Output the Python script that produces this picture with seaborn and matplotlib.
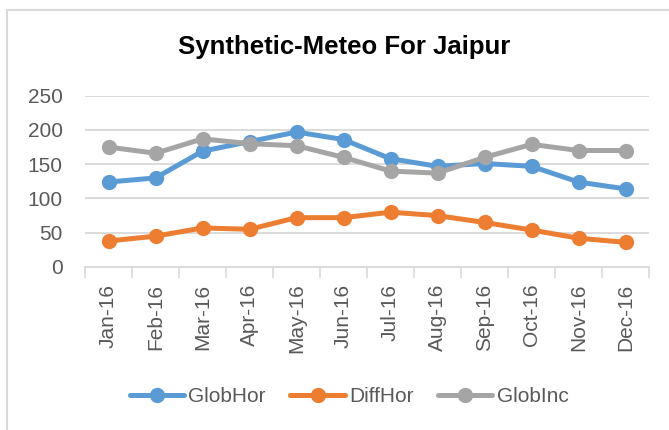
import matplotlib
matplotlib.use("Agg")
import matplotlib.pyplot as plt
from matplotlib.lines import Line2D
import seaborn as sns
import numpy as np
import pandas as pd

# data
months = ["Jan-16", "Feb-16", "Mar-16", "Apr-16", "May-16", "Jun-16",
          "Jul-16", "Aug-16", "Sep-16", "Oct-16", "Nov-16", "Dec-16"]
glob_hor = [124, 130, 169, 183, 197, 186, 158, 147, 151, 147, 124, 114]
diff_hor = [38, 45, 57, 55, 72, 72, 80, 75, 65, 54, 42, 36]
glob_inc = [175, 166, 187, 180, 177, 160, 140, 137, 160, 179, 170, 170]

series_names = ["GlobHor", "DiffHor", "GlobInc"]
colors = ["#5B9BD5", "#ED7D31", "#A5A5A5"]
y_ticks = [0, 50, 100, 150, 200, 250]

df = pd.DataFrame({
    "Month": months * 3,
    "Value": glob_hor + diff_hor + glob_inc,
    "Series": np.repeat(series_names, len(months)),
})

sns.set_theme(style="white")
plt.rcParams["font.family"] = ["Liberation Sans", "DejaVu Sans"]

fig = plt.figure(figsize=(6.69, 4.30), dpi=100)
ax = fig.add_axes([85 / 669, 1 - 267 / 430, (649 - 85) / 669, (267 - 95.7) / 430])

sns.lineplot(data=df, x="Month", y="Value", hue="Series", palette=colors,
             marker="o", markersize=11, markeredgewidth=0, linewidth=3.6,
             sort=False, ax=ax)

ax.set_ylim(0, 250)
ax.set_yticks(y_ticks)
ax.set_xlim(-0.5, len(months) - 0.5)
ax.set_xticks(range(len(months)))
ax.set_xticklabels(months, rotation=90)
ax.set_xticks(np.arange(-0.5, len(months), 1), minor=True)
ax.tick_params(axis="x", which="major", length=0, pad=12, labelsize=15, labelcolor="#595959")
ax.tick_params(axis="x", which="minor", length=8, width=1.2, color="#D9D9D9", bottom=True)
ax.tick_params(axis="y", length=0, pad=16, labelsize=15, labelcolor="#595959")
ax.yaxis.grid(True, color="#D9D9D9", linewidth=1.3)
ax.set_axisbelow(True)
ax.set_xlabel("")
ax.set_ylabel("")
for side in ["top", "right", "left"]:
    ax.spines[side].set_visible(False)
ax.spines["bottom"].set_color("#D9D9D9")
ax.spines["bottom"].set_linewidth(1.3)

fig.text(344 / 669, 1 - 47 / 430, "Synthetic-Meteo For Jaipur", ha="center", va="center",
         fontsize=18.5, fontweight="bold", color="black")

ax.get_legend().remove()
handles = [Line2D([], [], color=c, linewidth=3.6, marker="o", markersize=11, markeredgewidth=0)
           for c in colors]
fig.legend(handles, series_names, loc="center", bbox_to_anchor=(349 / 669, 1 - 397 / 430),
           ncol=3, frameon=False, fontsize=15, handlelength=2.6, handletextpad=0.2,
           columnspacing=1.2, labelcolor="#595959")

# chart frame (left and top edges visible in the crop)
fig.add_artist(Line2D([7 / 669, 7 / 669], [0, 1 - 10 / 430], color="#D9D9D9", linewidth=1.5,
                      transform=fig.transFigure))
fig.add_artist(Line2D([7 / 669, 1], [1 - 10 / 430, 1 - 10 / 430], color="#D9D9D9", linewidth=1.5,
                      transform=fig.transFigure))

fig.savefig("out.png", dpi=100)
